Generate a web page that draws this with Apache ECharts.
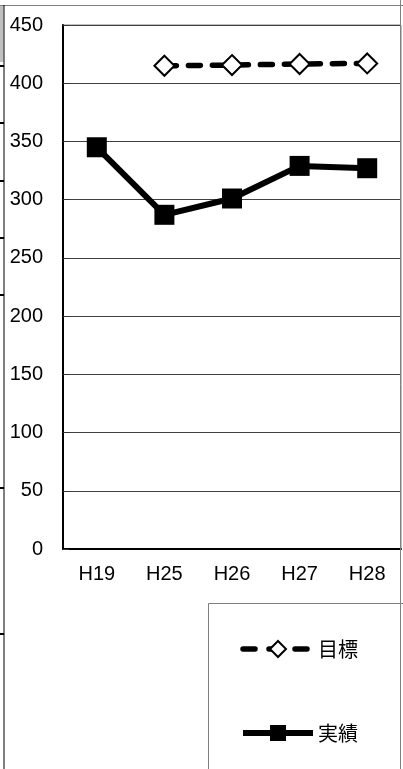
<!DOCTYPE html>
<html>
<head>
<meta charset="utf-8">
<script src="https://cdn.jsdelivr.net/npm/echarts@6/dist/echarts.min.js"></script>
<style>
  html, body { margin: 0; padding: 0; background: #fff; }
  #main { width: 403px; height: 769px; }
</style>
</head>
<body>
<div id="main"></div>
<script>
// 年度
var years = ['H19', 'H25', 'H26', 'H27', 'H28'];
// 目標 (H19は無し)
var targetVals = [null, 415, 415.6, 416.5, 417];
// 実績
var actualVals = [345, 287, 301, 329, 327];
var seriesNames = ['目標', '実績'];

// 左端の目盛り (隣の図の切れ端)
var edgeTicks = [66, 123, 181, 238, 295, 488, 634];

var myChart = echarts.init(document.getElementById('main'));

var graphics = [
    { type: 'rect', shape: { x: 0, y: 6, width: 3.5, height: 56 }, style: { fill: '#c0c0c0' }, z: 1 },
    { type: 'line', shape: { x1: 0, y1: 5.5, x2: 403, y2: 5.5 }, style: { stroke: '#808080', lineWidth: 1 }, z: 1 },
    { type: 'line', shape: { x1: 4, y1: 5, x2: 4, y2: 769 }, style: { stroke: '#000', lineWidth: 1 }, z: 1 },
    { type: 'line', shape: { x1: 400.5, y1: 0, x2: 400.5, y2: 769 }, style: { stroke: '#808080', lineWidth: 1 }, z: 1 },
    // 凡例の枠
    { type: 'rect', shape: { x: 208.5, y: 603.5, width: 220, height: 200 }, style: { fill: 'none', stroke: '#808080', lineWidth: 1 }, z: 1 }
];
edgeTicks.forEach(function (y) {
    graphics.push({ type: 'line', shape: { x1: 0, y1: y, x2: 4, y2: y }, style: { stroke: '#000', lineWidth: 2 }, z: 1 });
});

var option = {
    animation: false,
    backgroundColor: '#fff',
    graphic: graphics,
    grid: {
        left: 63, right: 2, top: 25, bottom: 220,
        show: true, borderColor: '#808080', borderWidth: 1
    },
    legend: {
        orient: 'vertical',
        left: 240,
        top: 639,
        padding: 0,
        itemWidth: 70,
        itemHeight: 20,
        itemGap: 64,
        data: [
            { name: seriesNames[0], lineStyle: { width: 5.5, type: [12, 14], cap: 'round' } },
            { name: seriesNames[1], lineStyle: { width: 6 } }
        ],
        textStyle: { fontFamily: 'Noto Sans CJK JP', fontSize: 20, color: '#000' }
    },
    xAxis: {
        type: 'category',
        data: years,
        boundaryGap: true,
        axisLine: { lineStyle: { color: '#000', width: 2 } },
        axisTick: { inside: true, length: 6, lineStyle: { color: '#333' } },
        axisLabel: { margin: 15, fontFamily: 'Liberation Sans', fontSize: 20, color: '#000' }
    },
    yAxis: {
        type: 'value',
        min: 0,
        max: 450,
        interval: 50,
        axisLine: { show: true, lineStyle: { color: '#000', width: 2 } },
        axisTick: { show: true, inside: true, length: 6, lineStyle: { color: '#333' } },
        axisLabel: { margin: 20, fontFamily: 'Liberation Sans', fontSize: 20, color: '#000' },
        splitLine: { lineStyle: { color: '#404040', width: 1 } }
    },
    series: [
        {
            name: seriesNames[0],
            type: 'line',
            data: targetVals,
            symbol: 'diamond',
            symbolSize: 20,
            itemStyle: { color: '#fff', borderColor: '#000', borderWidth: 2 },
            lineStyle: { color: '#000', width: 5.5, type: [12, 12], cap: 'round' },
            z: 3
        },
        {
            name: seriesNames[1],
            type: 'line',
            data: actualVals,
            symbol: 'rect',
            symbolSize: 20,
            itemStyle: { color: '#000' },
            lineStyle: { color: '#000', width: 6 },
            z: 3
        }
    ]
};

myChart.setOption(option);
window.onresize = function () {
    myChart.resize();
};
</script>
</body>
</html>
